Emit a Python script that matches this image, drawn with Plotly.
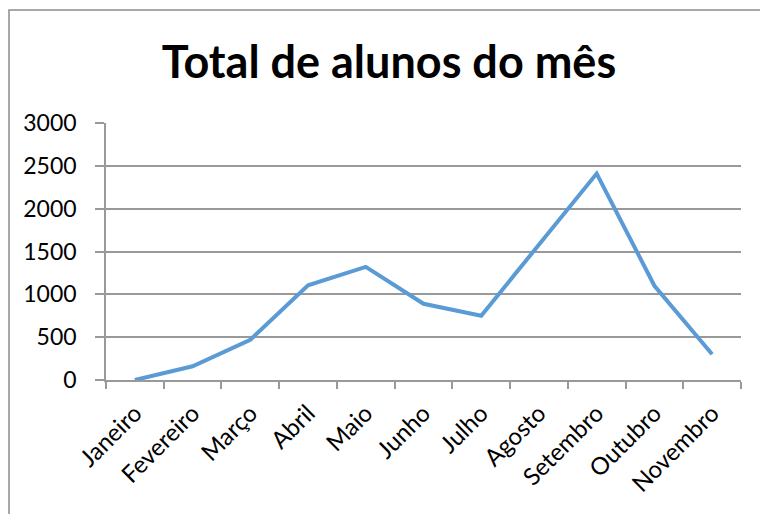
import plotly.graph_objects as go

# Monthly student totals
meses = ["Janeiro", "Fevereiro", "Março", "Abril", "Maio", "Junho",
         "Julho", "Agosto", "Setembro", "Outubro", "Novembro"]
total_alunos = [0, 160, 470, 1105, 1320, 890, 750, 1580, 2410, 1100, 300]
y_ticks = [0, 500, 1000, 1500, 2000, 2500, 3000]

W, H = 760, 514
L, R, T, B = 106, 19, 123, 134
pw, ph = W - L - R, H - T - B

fig = go.Figure(go.Scatter(
    x=meses, y=total_alunos, mode="lines",
    line=dict(color="#5B9BD5", width=4),
    hoverinfo="x+y",
))

font_family = "Lato, Calibri, sans-serif"
grid_col = "#999999"

fig.update_layout(
    width=W, height=H,
    margin=dict(l=L, r=R, t=T, b=B),
    paper_bgcolor="white", plot_bgcolor="white",
    showlegend=False,
    font=dict(family=font_family, color="black", size=22),
    title=dict(
        text="<b>Total de alunos do mês</b>",
        font=dict(family=font_family, size=45, color="black"),
        x=389 / W, xanchor="center",
        y=1 - 62 / H, yanchor="middle",
    ),
    xaxis=dict(
        type="category",
        tickson="boundaries",
        ticks="outside", ticklen=7, tickcolor=grid_col, tickwidth=1.5,
        showline=True, linecolor=grid_col, linewidth=1.5,
        showgrid=False,
        tickangle=-45,
        tickfont=dict(size=24),
        ticklabelstandoff=8,
        range=[-0.5, len(meses) - 0.5],
    ),
    yaxis=dict(
        range=[0, 3000],
        tickvals=y_ticks,
        ticks="outside", ticklen=9, tickcolor=grid_col, tickwidth=1.5,
        showline=True, linecolor=grid_col, linewidth=1.5,
        showgrid=True, gridcolor=grid_col, gridwidth=1.5,
        zeroline=False,
        tickfont=dict(size=23),
        ticklabelstandoff=14,
    ),
)

# Outer chart frame (continues past the right and bottom edges)
fig.add_shape(
    type="rect", xref="paper", yref="paper",
    x0=(9 - L) / pw, x1=(W + 20 - L) / pw,
    y0=-(B + 20) / ph, y1=(H - B - 10) / ph,
    line=dict(color="#8C8C8C", width=1.5),
    fillcolor="rgba(0,0,0,0)", layer="below",
)

fig.write_html("out.html")
